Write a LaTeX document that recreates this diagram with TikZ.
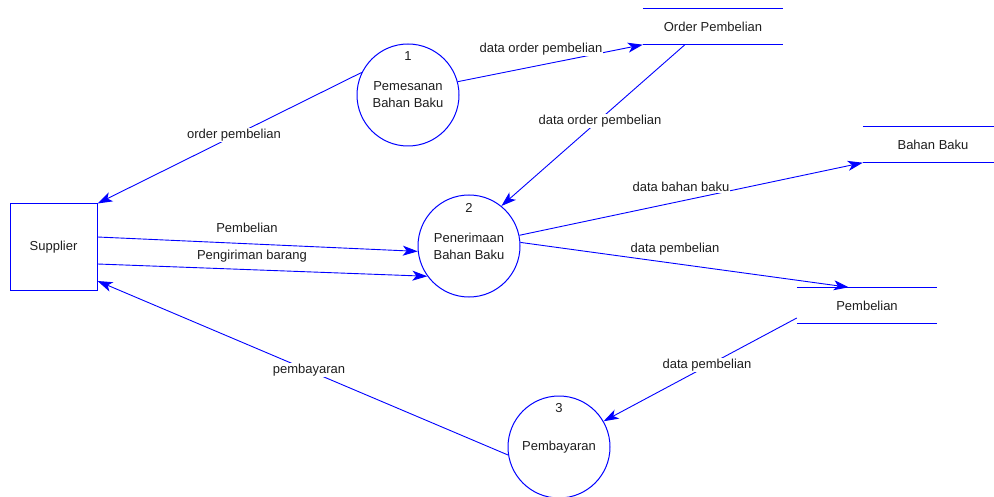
\documentclass[tikz,border=0pt]{standalone}
\usepackage{fontspec}
\setmainfont{Liberation Sans}
\usetikzlibrary{arrows.meta,calc}
\definecolor{flow}{RGB}{0,0,255}
\definecolor{ink}{RGB}{30,30,30}
\begin{document}
\begin{tikzpicture}[x=1pt,y=-1pt,
  every node/.style={font=\fontsize{13}{17}\selectfont, text=ink},
  process/.style={circle, draw=flow, line width=1pt, minimum size=102pt, inner sep=0pt, align=center},
  entity/.style={rectangle, draw=flow, line width=1pt, minimum width=87pt, minimum height=87pt},
  store/.style={rectangle, minimum width=140pt, minimum height=36pt, inner sep=0pt},
  storeline/.style={draw=flow, line width=1pt},
  flowline/.style={draw=flow, line width=0.9pt, -{Stealth[length=15pt,width=10pt,inset=4pt]}},
  lbl/.style={fill=white, inner sep=1pt}]
\useasboundingbox (0,0) rectangle (994,497);

% external entity
\node[entity] (sup) at (53.5,247.5) {Supplier};

% processes
\node[process] (p1) at (408,95) {Pemesanan\\Bahan Baku};
\node (n1) at ($(p1.center)+(0,-39)$) {1};
\node[process] (p2) at (469,246) {Penerimaan\\Bahan Baku};
\node (n2) at ($(p2.center)+(0,-38)$) {2};
\node[process] (p3) at (559,447) {Pembayaran};
\node (n3) at ($(p3.center)+(0,-39)$) {3};

% data stores
\node[store] (os) at (713,26.5) {Order Pembelian};
\node[store] (bb) at (933,144.5) {Bahan Baku};
\node[store] (pb) at (867,305.5) {Pembelian};
\foreach \s in {os,bb,pb}{
  \draw[storeline] (\s.north west) -- (\s.north east);
  \draw[storeline] (\s.south west) -- (\s.south east);
}

% data flows
\draw[flowline] (p1.154) -- (sup.north east);
\draw[flowline] (p1.15) -- (os.south west);
\draw[flowline] ($(os.south west)!0.3!(os.south east)$) -- (p2.51);
\draw[flowline] ($(sup.east)+(0,-10.5)$) -- (p2.186);
\draw[flowline] ($(sup.east)+(0,16.5)$) -- (p2.216);
\draw[flowline] (p2.12) -- (bb.south west);
\draw[flowline] (p2.4) -- ($(pb.north west)!0.37!(pb.north east)$);
\draw[flowline] ($(pb.west)+(0,12.5)$) -- (p3.30);
\draw[flowline] (p3.189) -- ($(sup.east)+(0,33.5)$);

% flow labels
\node[lbl] (l1) at (234,135) {order pembelian};
\node[lbl] (l2) at (541,49) {data order pembelian};
\node[lbl] (l3) at (600,121) {data order pembelian};
\node[lbl] (l4) at (247,228) {Pembelian};
\node[lbl] (l5) at (252,256) {Pengiriman barang};
\node[lbl] (l6) at (681,187) {data bahan baku};
\node[lbl] (l7) at (675,249) {data pembelian};
\node[lbl] (l8) at (707,365) {data pembelian};
\node[lbl] (l9) at (309,370) {pembayaran};
\end{tikzpicture}
\end{document}
